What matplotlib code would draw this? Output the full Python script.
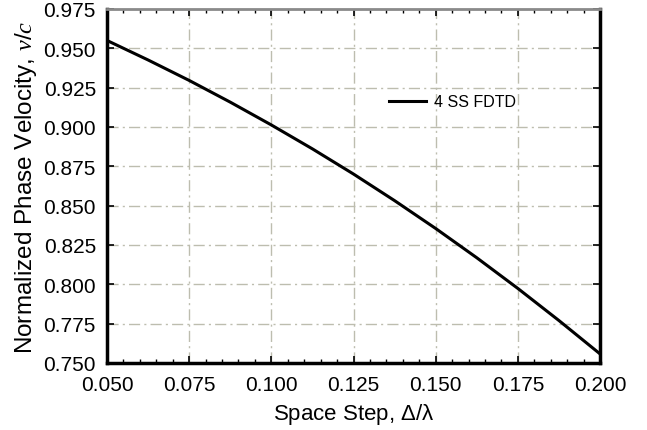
import matplotlib
matplotlib.use("Agg")
import matplotlib.pyplot as plt
import numpy as np
from matplotlib.ticker import MultipleLocator

plt.rcParams['font.family'] = ['Liberation Sans', 'DejaVu Sans']
plt.rcParams['mathtext.fontset'] = 'custom'
plt.rcParams['mathtext.rm'] = 'Liberation Sans'
plt.rcParams['mathtext.it'] = 'Liberation Serif:italic'

space_step = [0.05, 0.0625, 0.075, 0.0875, 0.1, 0.1125, 0.125, 0.1375,
              0.15, 0.1625, 0.175, 0.1875, 0.2]
phase_vel = [0.955, 0.9426, 0.9296, 0.9158, 0.9013, 0.8861, 0.8701, 0.8532,
             0.8355, 0.8169, 0.7974, 0.7770, 0.7558]
x_ticks = [0.050, 0.075, 0.100, 0.125, 0.150, 0.175, 0.200]
y_ticks = [0.750, 0.775, 0.800, 0.825, 0.850, 0.875, 0.900, 0.925, 0.950, 0.975]

fig = plt.figure(figsize=(6.47, 4.31), dpi=100)
ax = fig.add_axes([107/647, 1 - 364/431, (600-107)/647, (364-10)/431])

ax.plot(space_step, phase_vel, color='black', lw=2.2, label='4 SS FDTD')

ax.set_xlim(0.05, 0.2)
ax.set_ylim(0.75, 0.975)
ax.set_xticks(x_ticks)
ax.set_xticklabels([f"{v:.3f}" for v in x_ticks])
ax.set_yticks(y_ticks)
ax.set_yticklabels([f"{v:.3f}" for v in y_ticks])
ax.xaxis.set_minor_locator(MultipleLocator(0.005))

ax.grid(True, which='major', color='#bdbdaf', linestyle=(0, (8, 3, 1.5, 3)), lw=1.0)
ax.tick_params(which='both', direction='in', top=True, right=True, labelsize=15)
ax.tick_params(axis='y', pad=8)
ax.tick_params(axis='x', pad=9)
ax.tick_params(which='major', length=5, width=1.2)
ax.tick_params(which='minor', length=3, width=1.0)

for s in ['left', 'bottom', 'right']:
    ax.spines[s].set_linewidth(2.5)
ax.spines['top'].set_linewidth(2.0)
ax.spines['top'].set_color('#8a8a8a')

ax.set_xlabel('Space Step, $\\mathit{Δ}$/λ', fontsize=16, labelpad=5)
ax.set_ylabel('Normalized Phase Velocity, $v/c$', fontsize=17.5, labelpad=3)

leg = ax.legend(loc='center left', bbox_to_anchor=(0.543, 0.738), frameon=False,
                fontsize=11.5, handlelength=2.3, handletextpad=0.5)

fig.savefig('out.png', dpi=100)
